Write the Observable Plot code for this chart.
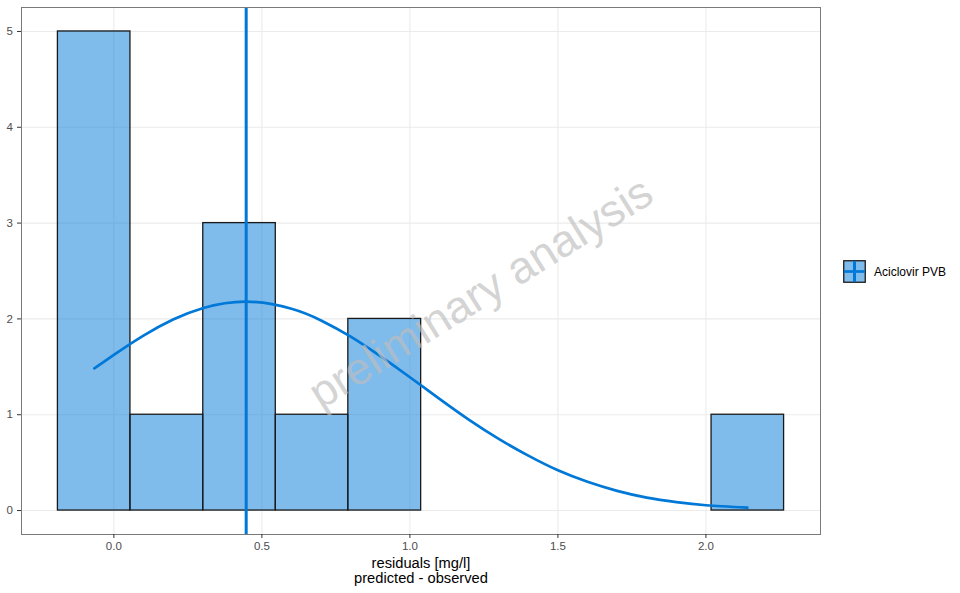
<!DOCTYPE html>
<html>
<head>
<meta charset="utf-8">
<script src="https://cdn.jsdelivr.net/npm/d3@7"></script>
<script src="https://cdn.jsdelivr.net/npm/@observablehq/plot@0.6"></script>
<style>
  html, body { margin: 0; padding: 0; background: #fff; }
  #wrap { position: relative; width: 960px; height: 593px; font-family: "Liberation Sans", Arial, sans-serif; }
  #legend { position: absolute; left: 843px; top: 260px; display: flex; align-items: center; font-size: 12px; color: #000; }
  #legend span { margin-left: 8px; }
</style>
</head>
<body>
<div id="wrap"></div>
<script>
// Histogram bins (residuals, mg/l)
const binStart = [-0.189, 0.056, 0.302, 0.547, 0.792, 1.038, 1.283, 1.528, 1.773, 2.019];
const binEnd   = [ 0.056, 0.302, 0.547, 0.792, 1.038, 1.283, 1.528, 1.773, 2.019, 2.264];
const counts   = [5, 1, 3, 1, 2, 0, 0, 0, 0, 1];

// Fitted normal curve
const curveX = [-0.066, 0.0, 0.1, 0.2, 0.3, 0.447, 0.6, 0.7, 0.8, 0.9, 1.0, 1.1, 1.2, 1.3, 1.4, 1.5, 1.6, 1.7, 1.8, 1.9, 2.0, 2.14];
const curveY = [1.485, 1.625, 1.826, 1.993, 2.112, 2.18, 2.106, 1.984, 1.815, 1.611, 1.391, 1.165, 0.946, 0.748, 0.573, 0.42, 0.3, 0.205, 0.135, 0.088, 0.055, 0.03];

// Mean residual
const meanResidual = [0.447];

const xTicks = [0, 0.5, 1.0, 1.5, 2.0];
const yTicks = [0, 1, 2, 3, 4, 5];
const seriesName = "Aciclovir PVB";
const watermark = "preliminary analysis";

const blue = "#0078D7";
const bins = binStart.map((s, i) => ({x1: s, x2: binEnd[i], n: counts[i]}));
const curve = curveX.map((x, i) => ({x, y: curveY[i]}));

const chart = Plot.plot({
  width: 960,
  height: 593,
  marginLeft: 21,
  marginRight: 140,
  marginTop: 7,
  marginBottom: 59,
  style: {fontFamily: "Liberation Sans, Arial, sans-serif", background: "#fff"},
  x: {domain: [-0.312, 2.387]},
  y: {domain: [-0.25, 5.25]},
  marks: [
    Plot.ruleX(xTicks, {stroke: "#EBEBEB", strokeWidth: 1.1}),
    Plot.ruleY(yTicks, {stroke: "#EBEBEB", strokeWidth: 1.1}),
    Plot.rect(bins, {x1: "x1", x2: "x2", y1: 0, y2: "n", fill: blue, fillOpacity: 0.5, stroke: "#1a1a1a", strokeWidth: 1.3}),
    Plot.line(curve, {x: "x", y: "y", stroke: blue, strokeWidth: 2.7, curve: "natural"}),
    Plot.ruleX(meanResidual, {stroke: blue, strokeWidth: 3}),
    Plot.text([watermark], {frameAnchor: "middle", dx: 60, dy: 22, rotate: -32, fontSize: 45, fill: "#BEBEBE", fillOpacity: 0.68, text: d => d}),
    Plot.frame({stroke: "#7a7a7a", strokeWidth: 1}),
    Plot.axisX({ticks: xTicks, tickFormat: d3.format(".1f"), tickSize: 4, tickPadding: 3, fontSize: 11.5, color: "#4D4D4D", stroke: "#333", label: null}),
    Plot.axisY({ticks: yTicks, tickFormat: d3.format("d"), tickSize: 4, tickPadding: 4.5, fontSize: 11.5, color: "#4D4D4D", stroke: "#333", label: null}),
    Plot.text(["residuals [mg/l]\npredicted - observed"], {frameAnchor: "bottom", lineAnchor: "top", dy: 23, fontSize: 14.7, lineHeight: 1.02, fill: "#000", text: d => d})
  ]
});

const wrap = document.getElementById("wrap");
wrap.appendChild(chart);

const legend = document.createElement("div");
legend.id = "legend";
legend.innerHTML = `<svg width="23" height="23" viewBox="0 0 23 23">
  <rect x="0.75" y="0.75" width="21.5" height="21.5" fill="${blue}" fill-opacity="0.5" stroke="#1a1a1a" stroke-width="1.3"/>
  <line x1="11.5" y1="1" x2="11.5" y2="22" stroke="${blue}" stroke-width="3"/>
  <line x1="1" y1="11.5" x2="22" y2="11.5" stroke="${blue}" stroke-width="2.7"/>
</svg><span>${seriesName}</span>`;
wrap.appendChild(legend);
</script>
</body>
</html>
